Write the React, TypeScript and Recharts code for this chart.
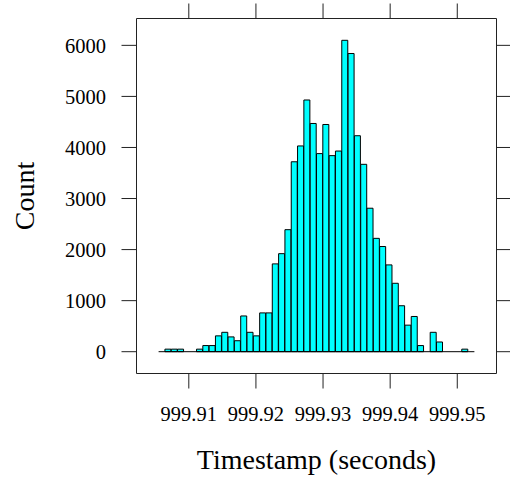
import React from "react";
import {
  ComposedChart,
  Bar,
  XAxis,
  YAxis,
  ReferenceLine,
} from "recharts";

// Histogram bin centers (seconds)
const binCenters = [
  999.905971, 999.906912, 999.907853, 999.908794, 999.909735,
  999.910676, 999.911617, 999.912558, 999.913499, 999.91444,
  999.915381, 999.916322, 999.917263, 999.918204, 999.919145,
  999.920086, 999.921027, 999.921968, 999.922909, 999.92385,
  999.924791, 999.925732, 999.926673, 999.927614, 999.928555,
  999.929496, 999.930437, 999.931378, 999.932319, 999.93326,
  999.934201, 999.935142, 999.936083, 999.937024, 999.937965,
  999.938906, 999.939847, 999.940788, 999.941729, 999.94267,
  999.943611, 999.944552, 999.945493, 999.946434, 999.947375,
  999.948316, 999.949257, 999.950198, 999.951139, 999.95208,
];

// Counts per bin
const counts = [
  0, 50, 50, 50, 0,
  0, 50, 120, 120, 310,
  380, 290, 215, 700, 380,
  310, 760, 760, 1720, 1920,
  2390, 3720, 4030, 4930, 4470,
  3880, 4450, 3840, 3930, 6099,
  5840, 4230, 3670, 2810, 2220,
  2060, 1700, 1340, 900, 520,
  690, 120, 0, 380, 190,
  0, 0, 0, 50, 0,
];

const xTicks = [999.91, 999.92, 999.93, 999.94, 999.95];
const yTicks = [0, 1000, 2000, 3000, 4000, 5000, 6000];
const breakStart = 999.9055;
const breakEnd = 999.95255;
const xDomain: [number, number] = [999.9022065, 999.9558435];
const yDomain: [number, number] = [-427, 6526];

const data = binCenters.map((x, i) => ({ x, count: counts[i] }));

const FONT = "'Liberation Serif', 'Times New Roman', serif";
const AXIS_COLOR = "#222";
const TICK_LEN = 15;
const TICK_FONT = 20.5;
// panel frame (layout only)
const PANEL_LEFT = 136.5;
const PANEL_BOTTOM = 373.5;
const BOTTOM_MARGIN = 18;
const LEFT_MARGIN = 15.5;

const BottomLabel = (props: any) => {
  const { x, y, payload } = props;
  return (
    <text
      x={x}
      y={y}
      dy="0.71em"
      textAnchor="middle"
      fill="#000"
      fontSize={TICK_FONT}
      fontFamily={FONT}
    >
      {Number(payload.value).toFixed(2)}
    </text>
  );
};

const LeftLabel = (props: any) => {
  const { x, y, payload } = props;
  return (
    <text
      x={x}
      y={y}
      dy="0.355em"
      textAnchor="end"
      fill="#000"
      fontSize={TICK_FONT}
      fontFamily={FONT}
    >
      {payload.value}
    </text>
  );
};

// top axis tick: draws the top tick and the matching bottom tick
const TopLine = (props: any) => {
  const { x, y } = props;
  return (
    <g>
      <line x1={x} x2={x} y1={y} y2={y + TICK_LEN} stroke={AXIS_COLOR} />
      <line
        x1={x}
        x2={x}
        y1={PANEL_BOTTOM}
        y2={PANEL_BOTTOM + TICK_LEN}
        stroke={AXIS_COLOR}
      />
    </g>
  );
};

// right axis tick: draws the right tick and the matching left tick
const RightLine = (props: any) => {
  const { x, y } = props;
  return (
    <g>
      <line x1={x - TICK_LEN} x2={x} y1={y} y2={y} stroke={AXIS_COLOR} />
      <line
        x1={PANEL_LEFT - TICK_LEN}
        x2={PANEL_LEFT}
        y1={y}
        y2={y}
        stroke={AXIS_COLOR}
      />
    </g>
  );
};

const xCommon = {
  dataKey: "x",
  type: "number" as const,
  scale: "linear" as const,
  domain: xDomain,
  allowDataOverflow: true,
  ticks: xTicks,
  interval: 0 as const,
};
const yCommon = {
  type: "number" as const,
  domain: yDomain,
  allowDataOverflow: true,
  ticks: yTicks,
  interval: 0 as const,
};

export default function App() {
  return (
    <div style={{ position: "absolute", left: 0, top: 0 }}>
      <ComposedChart
        width={510}
        height={479}
        data={data}
        margin={{ top: 0, right: 0, bottom: 0, left: 0 }}
        barCategoryGap={0}
        barGap={0}
      >
        <XAxis
          {...xCommon}
          xAxisId="bottom"
          orientation="bottom"
          height={105.5}
          tickSize={TICK_LEN}
          tickMargin={BOTTOM_MARGIN}
          tick={<BottomLabel />}
          tickLine={false}
          axisLine={{ stroke: AXIS_COLOR }}
          label={{
            value: "Timestamp (seconds)",
            position: "insideBottom",
            offset: 10,
            fill: "#000",
            fontSize: 28,
            fontFamily: FONT,
          }}
        />
        <XAxis
          {...xCommon}
          xAxisId="top"
          orientation="top"
          height={18.5}
          tickSize={TICK_LEN}
          tickMargin={0}
          tick={<TopLine />}
          tickLine={false}
          axisLine={{ stroke: AXIS_COLOR }}
        />
        <XAxis {...xCommon} xAxisId="zBarX" orientation="top" hide />
        <YAxis
          {...yCommon}
          yAxisId="left"
          orientation="left"
          width={136.5}
          tickSize={TICK_LEN}
          tickMargin={LEFT_MARGIN}
          tick={<LeftLabel />}
          tickLine={false}
          axisLine={{ stroke: AXIS_COLOR }}
          label={{
            value: "Count",
            angle: -90,
            position: "insideLeft",
            offset: 24,
            fill: "#000",
            fontSize: 28,
            fontFamily: FONT,
            style: { textAnchor: "middle" },
          }}
        />
        <YAxis
          {...yCommon}
          yAxisId="right"
          orientation="right"
          width={13.5}
          tickSize={TICK_LEN}
          tickMargin={0}
          tick={<RightLine />}
          tickLine={false}
          axisLine={{ stroke: AXIS_COLOR }}
        />
        <YAxis {...yCommon} yAxisId="zBarY" orientation="right" hide />
        <ReferenceLine
          xAxisId="zBarX"
          yAxisId="zBarY"
          segment={[
            { x: breakStart, y: 0 },
            { x: breakEnd, y: 0 },
          ]}
          stroke="#000"
          strokeWidth={1}
          ifOverflow="visible"
        />
        <Bar
          xAxisId="zBarX"
          yAxisId="zBarY"
          dataKey="count"
          fill="#00FFFF"
          stroke="#000"
          strokeWidth={1}
          isAnimationActive={false}
        />
      </ComposedChart>
    </div>
  );
}
